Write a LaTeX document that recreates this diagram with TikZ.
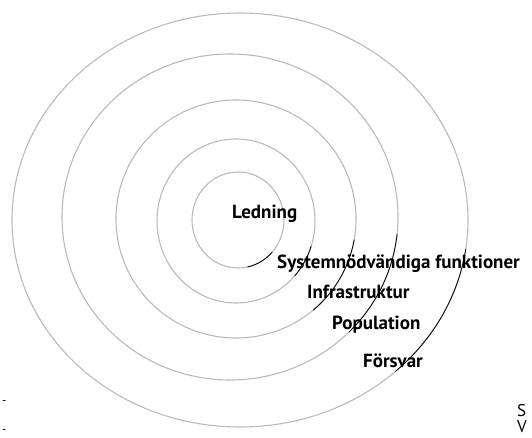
\documentclass[tikz,border=0pt]{standalone}
\usepackage{fontspec}
\setmainfont{PT Sans}
\usetikzlibrary{calc,positioning}

\begin{document}
\begin{tikzpicture}[
    x=1pt, y=1pt,
    ring/.style = {draw=black!27, line width=1.1pt},
    lead/.style = {draw=black, line width=0.8pt},
    lbl/.style  = {font=\fontsize{19}{21}\selectfont\bfseries, inner sep=0pt,
                   anchor=west, text height=13pt, text depth=4pt},
    cut/.style  = {font=\fontsize{17}{19}\selectfont, inner sep=0pt, anchor=west}
  ]
  \useasboundingbox (0,0) rectangle (532,437);

  \coordinate (origin) at (0,0);

  % rings, inner to outer: centre x/y, radius x/y, dark part from/to
  \foreach \cx/\cy/\rx/\ry/\a/\b in {238/217/46/48/-78/-42,
                                     236/216/79/82/-42/-18,
                                     236/218/120/119/-50/-10,
                                     230/220/168/163/-45/-6,
                                     240/217/228/207/-47/-8} {
    \draw[ring] ($(origin)+(\cx,\cy)$) ellipse [x radius=\rx, y radius=\ry];
    \draw[lead] ($(origin)+({\cx+\rx*cos(\a)},{\cy+\ry*sin(\a)})$)
      arc[start angle=\a, end angle=\b, x radius=\rx, y radius=\ry];
  }

  \node[lbl] (led) at ($(origin)+(232,223)$) {Ledning};
  \node[lbl] (sys) at ($(origin)+(277,173)$) {Systemnödvändiga funktioner};
  \node[lbl] (inf) at ($(origin)+(307,143)$) {Infrastruktur};
  \node[lbl] (pop) at ($(origin)+(332,112)$) {Population};
  \node[lbl] (for) at ($(origin)+(363,74)$)  {Försvar};

  \node[cut] (s) at ($(origin)+(517,26)$) {S};
  \node[cut] (v) at ($(origin)+(517,10)$) {V};
  \node[cut, font=\fontsize{12}{14}\selectfont] (d1) at ($(origin)+(2,34)$) {-};
  \node[cut, font=\fontsize{12}{14}\selectfont] (d2) at ($(origin)+(2,5)$)  {-};

\end{tikzpicture}
\end{document}
